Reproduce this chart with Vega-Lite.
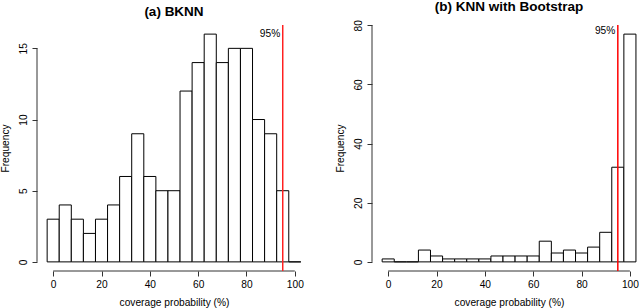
{
  "$schema": "https://vega.github.io/schema/vega-lite/v6.json",
  "padding": {"left": 0, "top": 0, "right": 0, "bottom": 0},
  "background": "white",
  "spacing": 24,
  "config": {
    "view": {"stroke": null},
    "font": "Liberation Sans",
    "title": {"font": "Liberation Sans", "fontSize": 13.5, "fontWeight": "bold", "color": "black", "baseline": "alphabetic", "offset": 6, "anchor": "middle"},
    "axis": {"domain": false, "grid": false, "tickColor": "#333", "tickSize": 5, "labelColor": "black", "labelFont": "Liberation Sans", "labelFontSize": 10.2, "titleFont": "Liberation Sans", "titleFontSize": 10.2, "titleFontWeight": "normal", "titleColor": "black"}
  },
  "datasets": {
    "a": [
      {"lo": -2.5, "hi": 2.5, "n": 3}, {"lo": 2.5, "hi": 7.5, "n": 4}, {"lo": 7.5, "hi": 12.5, "n": 3},
      {"lo": 12.5, "hi": 17.5, "n": 2}, {"lo": 17.5, "hi": 22.5, "n": 3}, {"lo": 22.5, "hi": 27.5, "n": 4},
      {"lo": 27.5, "hi": 32.5, "n": 6}, {"lo": 32.5, "hi": 37.5, "n": 9}, {"lo": 37.5, "hi": 42.5, "n": 6},
      {"lo": 42.5, "hi": 47.5, "n": 5}, {"lo": 47.5, "hi": 52.5, "n": 5}, {"lo": 52.5, "hi": 57.5, "n": 12},
      {"lo": 57.5, "hi": 62.5, "n": 14}, {"lo": 62.5, "hi": 67.5, "n": 16}, {"lo": 67.5, "hi": 72.5, "n": 14},
      {"lo": 72.5, "hi": 77.5, "n": 15}, {"lo": 77.5, "hi": 82.5, "n": 15}, {"lo": 82.5, "hi": 87.5, "n": 10},
      {"lo": 87.5, "hi": 92.5, "n": 9}, {"lo": 92.5, "hi": 97.5, "n": 5}, {"lo": 97.5, "hi": 102.5, "n": 0}
    ],
    "b": [
      {"lo": -2.5, "hi": 2.5, "n": 1}, {"lo": 2.5, "hi": 7.5, "n": 0}, {"lo": 7.5, "hi": 12.5, "n": 0},
      {"lo": 12.5, "hi": 17.5, "n": 4}, {"lo": 17.5, "hi": 22.5, "n": 2}, {"lo": 22.5, "hi": 27.5, "n": 1},
      {"lo": 27.5, "hi": 32.5, "n": 1}, {"lo": 32.5, "hi": 37.5, "n": 1}, {"lo": 37.5, "hi": 42.5, "n": 1},
      {"lo": 42.5, "hi": 47.5, "n": 2}, {"lo": 47.5, "hi": 52.5, "n": 2}, {"lo": 52.5, "hi": 57.5, "n": 2},
      {"lo": 57.5, "hi": 62.5, "n": 2}, {"lo": 62.5, "hi": 67.5, "n": 7}, {"lo": 67.5, "hi": 72.5, "n": 3},
      {"lo": 72.5, "hi": 77.5, "n": 4}, {"lo": 77.5, "hi": 82.5, "n": 3}, {"lo": 82.5, "hi": 87.5, "n": 5},
      {"lo": 87.5, "hi": 92.5, "n": 10}, {"lo": 92.5, "hi": 97.5, "n": 32}, {"lo": 97.5, "hi": 102.5, "n": 77}
    ],
    "one": [{}]
  },
  "hconcat": [
    {
      "title": {"text": "(a) BKNN"},
      "width": 274,
      "height": 246,
      "layer": [
        {
          "data": {"name": "a"},
          "mark": {"type": "rect", "fill": "white", "stroke": "black", "strokeWidth": 1},
          "encoding": {
            "x": {"field": "lo", "type": "quantitative", "scale": {"domain": [-6.7, 106.7], "nice": false, "zero": false},
                  "axis": {"values": [0, 20, 40, 60, 80, 100], "title": "coverage probability (%)", "labelPadding": 3, "titlePadding": 8}},
            "x2": {"field": "hi"},
            "y": {"field": "n", "type": "quantitative", "scale": {"domain": [-0.64, 16.64], "nice": false, "zero": false},
                  "axis": {"values": [0, 5, 10, 15], "title": "Frequency", "labelAngle": -90, "labelPadding": 4, "titlePadding": 8}},
            "y2": {"datum": 0}
          }
        },
        {
          "data": {"name": "one"},
          "mark": {"type": "rule", "color": "#333", "strokeWidth": 1},
          "encoding": {"x": {"datum": -6.7}, "y": {"datum": 0}, "y2": {"datum": 15}}
        },
        {
          "data": {"name": "one"},
          "mark": {"type": "rule", "color": "#333", "strokeWidth": 1},
          "encoding": {"y": {"datum": -0.64}, "x": {"datum": 0}, "x2": {"datum": 100}}
        },
        {
          "data": {"name": "one"},
          "mark": {"type": "rule", "color": "#ff2020", "strokeWidth": 1.5},
          "encoding": {"x": {"datum": 95}}
        },
        {
          "data": {"name": "one"},
          "mark": {"type": "text", "text": "95%", "align": "right", "baseline": "middle", "dx": -2.5, "fontSize": 10.2, "font": "Liberation Sans", "color": "black"},
          "encoding": {"x": {"datum": 95}, "y": {"datum": 16}}
        }
      ]
    },
    {
      "title": {"text": "(b) KNN with Bootstrap", "dx": 4},
      "width": 266,
      "height": 246,
      "layer": [
        {
          "data": {"name": "b"},
          "mark": {"type": "rect", "fill": "white", "stroke": "black", "strokeWidth": 1},
          "encoding": {
            "x": {"field": "lo", "type": "quantitative", "scale": {"domain": [-6.7, 103.35], "nice": false, "zero": false},
                  "axis": {"values": [0, 20, 40, 60, 80, 100], "title": "coverage probability (%)", "labelPadding": 3, "titlePadding": 8, "titleX": 137}},
            "x2": {"field": "hi"},
            "y": {"field": "n", "type": "quantitative", "scale": {"domain": [-3.08, 80.08], "nice": false, "zero": false},
                  "axis": {"values": [0, 20, 40, 60, 80], "title": "Frequency", "labelAngle": -90, "labelPadding": 4, "titlePadding": 8}},
            "y2": {"datum": 0}
          }
        },
        {
          "data": {"name": "one"},
          "mark": {"type": "rule", "color": "#333", "strokeWidth": 1},
          "encoding": {"x": {"datum": -6.7}, "y": {"datum": 0}, "y2": {"datum": 80}}
        },
        {
          "data": {"name": "one"},
          "mark": {"type": "rule", "color": "#333", "strokeWidth": 1},
          "encoding": {"y": {"datum": -3.08}, "x": {"datum": 0}, "x2": {"datum": 100}}
        },
        {
          "data": {"name": "one"},
          "mark": {"type": "rule", "color": "#ff0000", "strokeWidth": 1.5},
          "encoding": {"x": {"datum": 95}}
        },
        {
          "data": {"name": "one"},
          "mark": {"type": "text", "text": "95%", "align": "right", "baseline": "middle", "dx": -2.5, "fontSize": 10.2, "font": "Liberation Sans", "color": "black"},
          "encoding": {"x": {"datum": 95}, "y": {"datum": 78}}
        }
      ]
    }
  ]
}
